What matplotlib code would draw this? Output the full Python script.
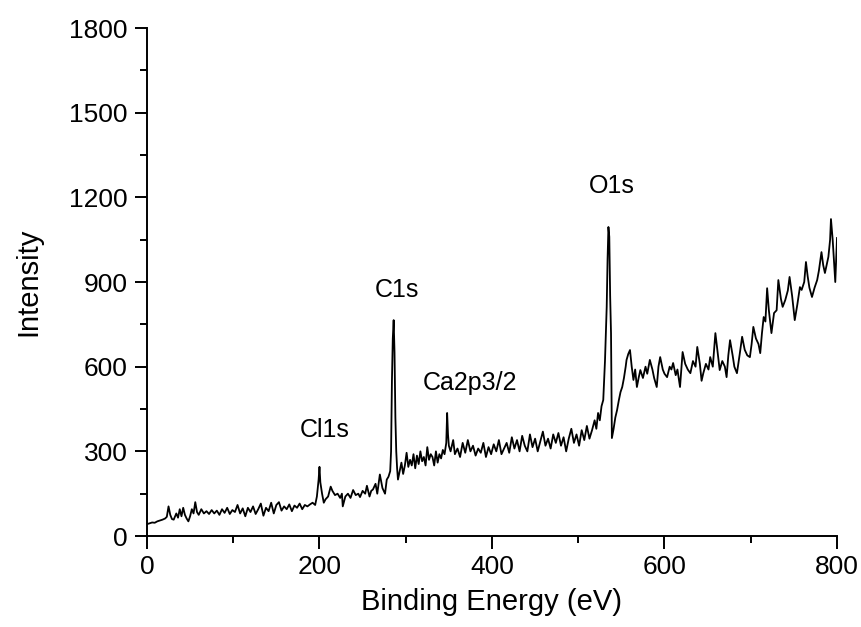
import numpy as np
import matplotlib.pyplot as plt
from matplotlib.ticker import MultipleLocator

plt.rcParams['font.family'] = ['Liberation Sans', 'DejaVu Sans']

# XPS survey spectrum
energy = [0, 3, 6, 9, 12, 15, 18, 21, 23, 25, 27, 29, 31, 34, 36, 38, 40, 42, 44, 46,
          48, 50, 52, 54, 56, 58, 60, 63, 66, 69, 72, 75, 78, 81, 84, 87, 90, 93, 96, 99,
          102, 105, 108, 111, 114, 117, 120, 123, 126, 129, 132, 135, 138, 141, 144, 147,
          150, 153, 156, 159, 162, 165, 168, 171, 174, 177, 180, 183, 186, 189, 192, 195,
          197, 199, 200, 201, 203, 205, 207, 210, 213, 215, 218, 221, 224, 226, 227, 230,
          233, 236, 239, 242, 245, 247, 250, 253, 255, 258, 260, 262, 265, 267, 270, 273,
          276, 278, 280, 282, 283, 284, 285, 286, 287, 288, 289, 290, 291, 293, 295, 297,
          299, 301, 303, 305, 307, 309, 311, 313, 315, 317, 319, 321, 323, 325, 327, 329,
          331, 333, 335, 337, 339, 341, 343, 345, 347, 348, 349, 350, 352, 355, 357, 360,
          363, 366, 369, 372, 375, 378, 381, 384, 387, 390, 393, 396, 399, 402, 405, 408,
          411, 414, 417, 420, 423, 426, 429, 432, 435, 438, 441, 444, 447, 450, 453, 456,
          459, 462, 465, 468, 471, 474, 477, 480, 483, 486, 489, 492, 495, 498, 501, 504,
          507, 510, 513, 516, 519, 521, 523, 525, 527, 529, 531, 533, 534, 535, 536, 537,
          538, 539, 541, 543, 545, 547, 549, 551, 553, 555, 556, 558, 560, 562, 564, 566,
          568, 570, 572, 575, 578, 580, 583, 586, 588, 591, 593, 595, 598, 600, 603, 606,
          608, 610, 613, 615, 618, 621, 624, 627, 630, 633, 636, 638, 641, 643, 645, 648,
          651, 653, 656, 659, 662, 664, 667, 670, 672, 674, 676, 679, 681, 684, 687, 690,
          693, 696, 699, 701, 703, 706, 709, 711, 713, 715, 717, 719, 721, 724, 727, 730,
          732, 735, 737, 740, 743, 745, 748, 751, 754, 757, 759, 762, 764, 766, 768, 771,
          774, 777, 779, 782, 784, 786, 788, 790, 792, 793, 795, 796, 798, 799, 800]
intensity = [42, 45, 48, 47, 52, 55, 58, 62, 68, 105, 75, 60, 58, 80, 65, 95, 70, 100, 75, 62,
             52, 70, 95, 80, 120, 85, 75, 95, 80, 88, 78, 92, 80, 90, 75, 95, 82, 100, 78, 92,
             85, 110, 80, 98, 70, 100, 85, 105, 78, 95, 115, 72, 100, 88, 118, 80,
             110, 120, 90, 105, 95, 112, 88, 108, 100, 115, 95, 110, 105, 112, 118, 110,
             140, 200, 245, 190, 150, 118, 130, 140, 175, 160, 145, 150, 135, 150, 105, 140,
             150, 135, 163, 145, 150, 138, 160, 150, 178, 140, 160, 165, 185, 150, 218, 170,
             150, 200, 210, 230, 300, 550, 700, 765, 650, 420, 300, 240, 200, 230, 260, 220,
             250, 295, 245, 270, 250, 290, 240, 285, 255, 300, 265, 280, 250, 315, 270, 290,
             280, 250, 300, 260, 290, 275, 305, 290, 330, 436, 360, 320, 300, 340, 290, 310,
             280, 330, 295, 340, 300, 320, 285, 310, 295, 330, 280, 315, 290, 325, 300, 340,
             290, 310, 330, 295, 350, 310, 340, 300, 355, 320, 300, 360, 315, 345, 300, 335,
             370, 320, 345, 310, 360, 330, 365, 320, 350, 300, 345, 380, 330, 360, 320, 375,
             340, 390, 345, 375, 410, 380, 436, 410, 460, 482, 620, 812, 980, 1095, 1060, 850,
             719, 347, 380, 420, 446, 480, 510, 528, 560, 600, 624, 645, 659, 600, 553, 590,
             528, 560, 588, 560, 600, 575, 624, 590, 560, 528, 600, 634, 590, 575, 563, 600,
             590, 613, 570, 590, 528, 652, 610, 590, 577, 620, 600, 670, 610, 550, 577, 610,
             590, 634, 600, 719, 640, 588, 620, 600, 563, 640, 694, 640, 600, 577, 640, 706,
             660, 640, 634, 680, 741, 700, 680, 648, 719, 776, 760, 878, 800, 719, 790, 800,
             907, 840, 812, 836, 870, 918, 850, 765, 820, 882, 872, 900, 971, 920, 880, 847,
             880, 907, 940, 1006, 960, 932, 960, 989, 1050, 1123, 1049, 1000, 900, 980, 1056]

peak_labels = ['Cl1s', 'C1s', 'Ca2p3/2', 'O1s']
label_x = [206, 290, 374, 539]
label_y = [375, 871, 542, 1240]

fig = plt.figure(figsize=(8.62, 6.27), dpi=100)
ax = fig.add_axes([0.1705, 0.1451, 0.8005, 0.8102])

ax.plot(energy, intensity, color='black', lw=1.3)

for name, lx, ly in zip(peak_labels, label_x, label_y):
    ax.text(lx, ly, name, ha='center', va='center', fontsize=18)

ax.set_xlim(0, 800)
ax.set_ylim(0, 1800)
ax.xaxis.set_major_locator(MultipleLocator(200))
ax.xaxis.set_minor_locator(MultipleLocator(100))
ax.yaxis.set_major_locator(MultipleLocator(300))
ax.yaxis.set_minor_locator(MultipleLocator(150))

ax.spines['top'].set_visible(False)
ax.spines['right'].set_visible(False)
for s in ['left', 'bottom']:
    ax.spines[s].set_linewidth(1.4)

ax.tick_params(which='major', direction='out', length=9, width=1.4, labelsize=19, pad=5)
ax.tick_params(which='minor', direction='out', length=5, width=1.4)

ax.set_xlabel('Binding Energy (eV)', fontsize=21, labelpad=6)
ax.set_ylabel('Intensity', fontsize=21, labelpad=19)

fig.savefig('out.png', dpi=100)
